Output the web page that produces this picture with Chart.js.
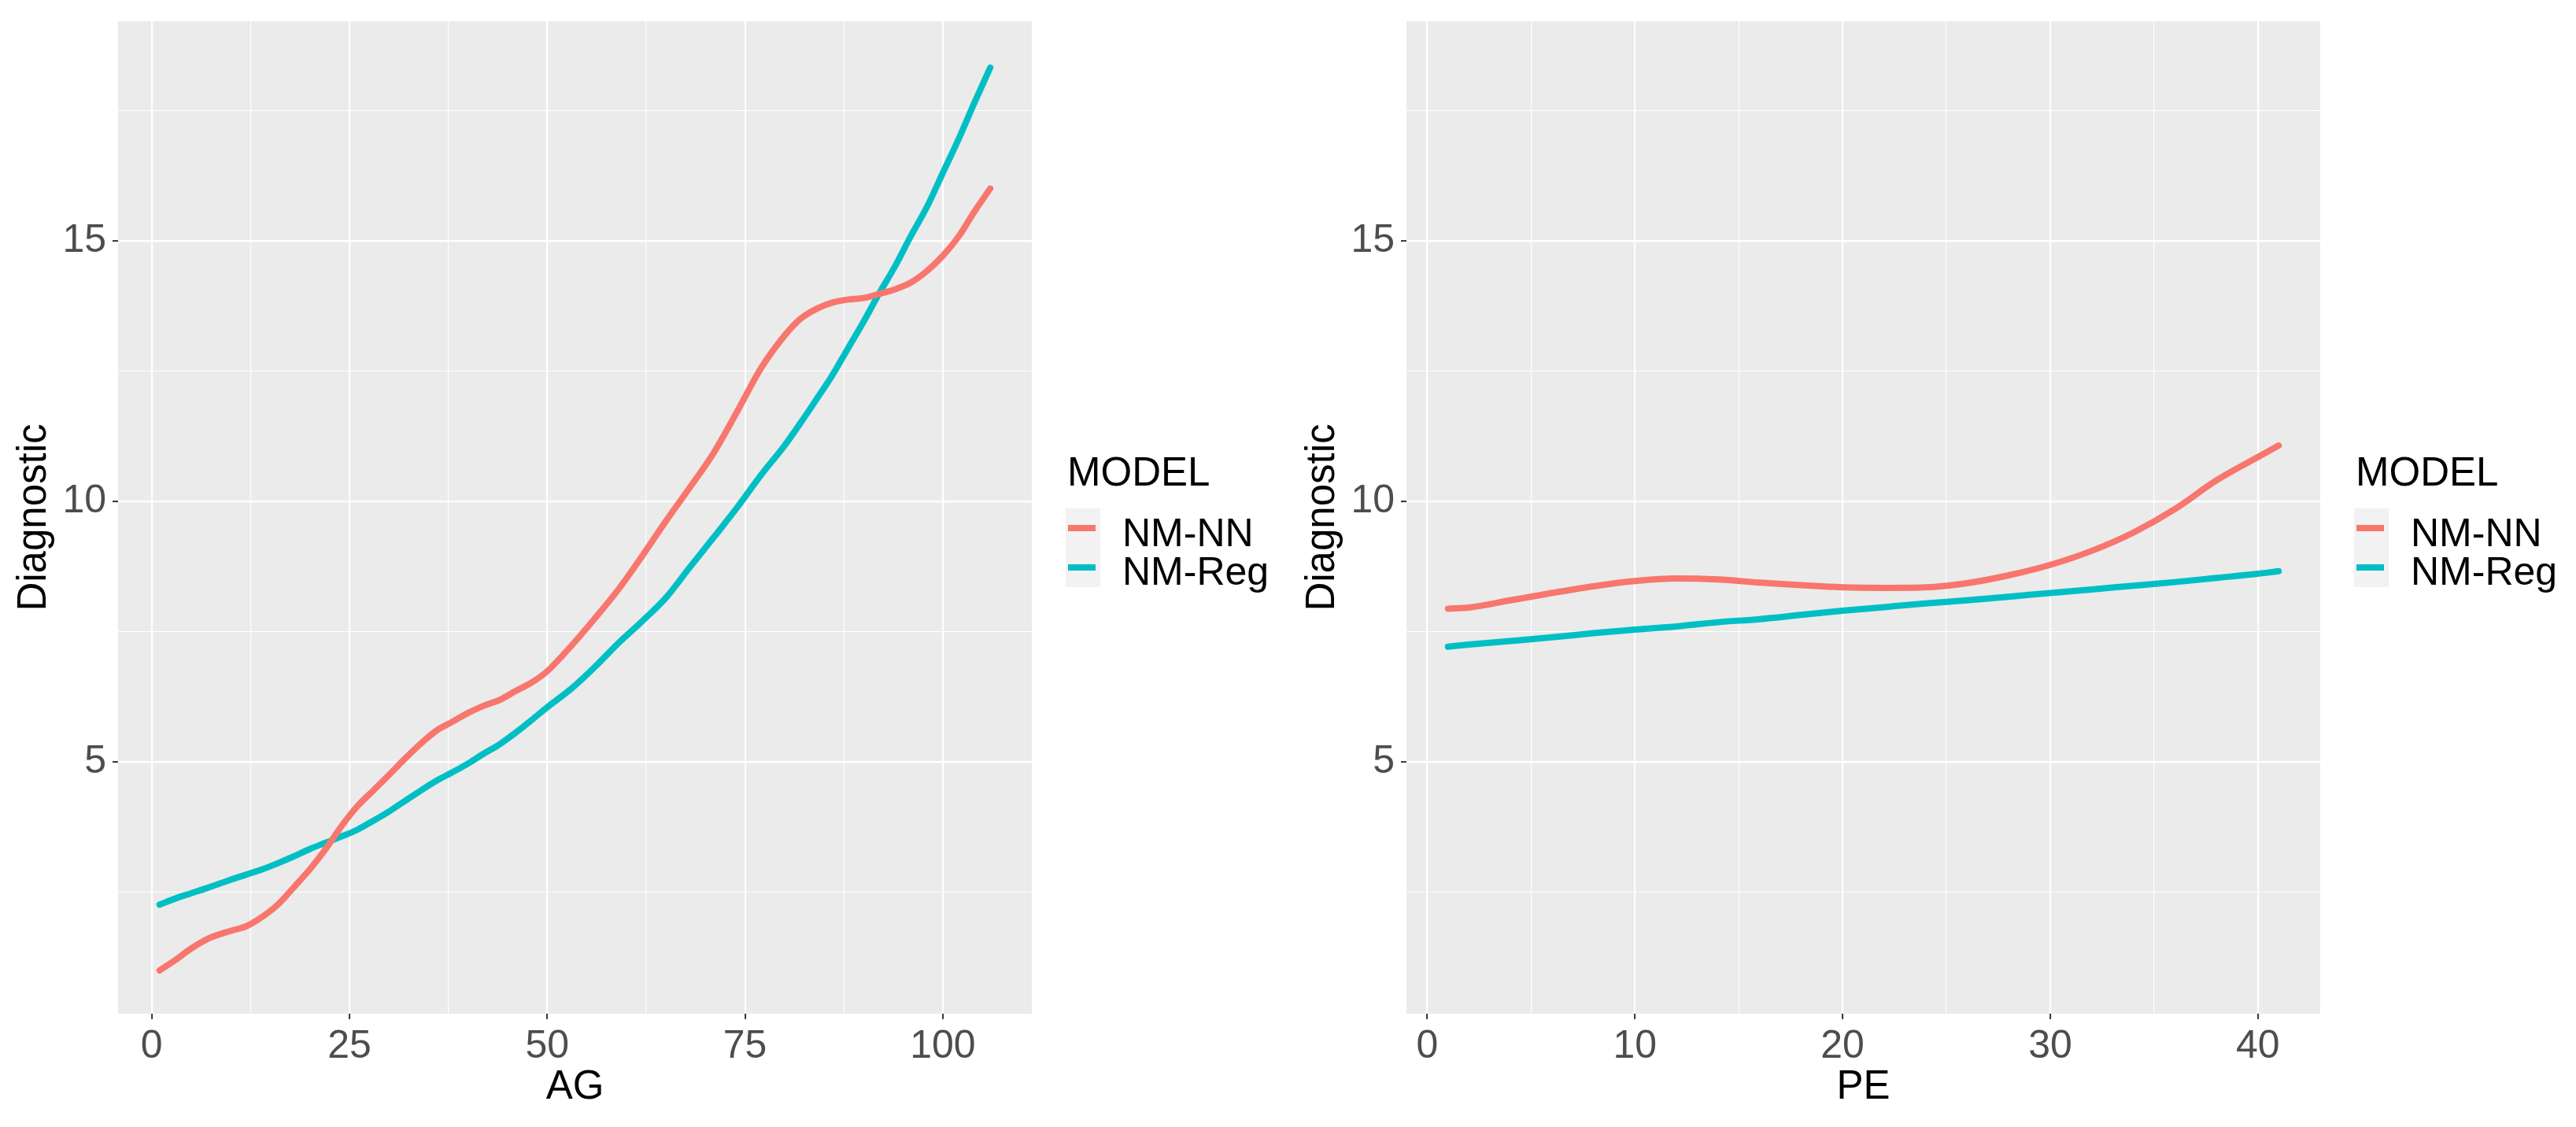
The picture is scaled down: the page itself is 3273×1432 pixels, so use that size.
<!DOCTYPE html>
<html>
<head>
<meta charset="utf-8">
<script src="https://cdn.jsdelivr.net/npm/chart.js@4.4.1/dist/chart.umd.min.js"></script>
<style>
  html, body { margin: 0; padding: 0; background: #ffffff; }
  #wrap { position: relative; width: 3273px; height: 1432px; overflow: hidden; }
  canvas { position: absolute; top: 0; }
</style>
</head>
<body>
<div id="wrap">
  <canvas id="c1" width="1637" height="1432" style="left:0px"></canvas>
  <canvas id="c2" width="1636" height="1432" style="left:1637px"></canvas>
</div>
<script>
// ---------------- DATA ----------------
const seriesNames = ["NM-NN", "NM-Reg"];
const legendTitle = "MODEL";

const agX   = [1, 3, 5, 7, 10, 12, 14, 16, 18, 20, 22, 24, 26, 28, 30, 32, 34, 36, 38, 40, 42, 44, 46, 48, 50, 53, 56, 59, 62, 65, 68, 71, 74, 77, 80, 82, 84, 86, 88, 90, 92, 94, 96, 98, 100, 102, 104, 106];
const agNN  = [1.00, 1.20, 1.42, 1.60, 1.76, 1.85, 2.03, 2.27, 2.60, 2.94, 3.33, 3.77, 4.15, 4.45, 4.75, 5.06, 5.35, 5.60, 5.77, 5.94, 6.08, 6.19, 6.36, 6.52, 6.74, 7.22, 7.75, 8.31, 8.95, 9.62, 10.26, 10.92, 11.72, 12.55, 13.18, 13.50, 13.69, 13.81, 13.87, 13.90, 13.98, 14.07, 14.20, 14.42, 14.71, 15.08, 15.56, 16.00];
const agReg = [2.26, 2.38, 2.48, 2.58, 2.74, 2.84, 2.94, 3.06, 3.19, 3.33, 3.45, 3.57, 3.70, 3.87, 4.05, 4.25, 4.45, 4.64, 4.80, 4.97, 5.16, 5.34, 5.56, 5.80, 6.05, 6.40, 6.82, 7.28, 7.70, 8.15, 8.73, 9.30, 9.88, 10.50, 11.07, 11.50, 11.95, 12.41, 12.93, 13.45, 14.00, 14.52, 15.10, 15.65, 16.30, 16.95, 17.65, 18.32];

const peX   = [1, 2, 4, 6, 8, 10, 12, 14, 16, 18, 20, 22, 24, 26, 28, 30, 32, 34, 36, 38, 40, 41];
const peNN  = [7.94, 7.96, 8.10, 8.24, 8.37, 8.47, 8.52, 8.50, 8.44, 8.39, 8.35, 8.34, 8.35, 8.43, 8.58, 8.78, 9.05, 9.40, 9.85, 10.40, 10.85, 11.07];
const peReg = [7.21, 7.25, 7.32, 7.39, 7.47, 7.54, 7.60, 7.68, 7.74, 7.82, 7.90, 7.97, 8.04, 8.10, 8.17, 8.24, 8.31, 8.38, 8.45, 8.53, 8.61, 8.66];

const agMajorTicks = [0, 25, 50, 75, 100];
const agMinorTicks = [12.5, 37.5, 62.5, 87.5];
const peMajorTicks = [0, 10, 20, 30, 40];
const peMinorTicks = [5, 15, 25, 35];
const yMajorTicks  = [5, 10, 15];
const yMinorTicks  = [2.5, 7.5, 12.5, 17.5];

const yMin = 0.17, yMax = 19.21;
const agRange = [-4.25, 111.25];
const peRange = [-1, 43];

// ---------------- STYLE ----------------
const COLORS = ["#F8766D", "#00BFC4"];
const FONT = "'Liberation Sans', Arial, sans-serif";

const panelBg = {
  id: 'panelBg',
  beforeDraw(chart) {
    const {ctx, chartArea: a} = chart;
    ctx.save();
    ctx.fillStyle = '#EBEBEB';
    ctx.fillRect(a.left, a.top, a.right - a.left, a.bottom - a.top);
    ctx.restore();
  }
};

const ggLegend = {
  id: 'ggLegend',
  afterDraw(chart) {
    const {ctx, chartArea: a} = chart;
    const x0 = a.right;
    ctx.save();
    ctx.fillStyle = '#000000';
    ctx.textBaseline = 'alphabetic';
    ctx.textAlign = 'left';
    ctx.font = `51px ${FONT}`;
    ctx.fillText(legendTitle, x0 + 45, 617);
    ctx.fillStyle = '#F2F2F2';
    ctx.fillRect(x0 + 43, 646, 44, 100);
    const ds = chart.data.datasets;
    ds.forEach((d, i) => {
      const cy = 671 + i * 50;
      ctx.strokeStyle = d.borderColor;
      ctx.lineWidth = 8;
      ctx.lineCap = 'butt';
      ctx.beginPath();
      ctx.moveTo(x0 + 46, cy);
      ctx.lineTo(x0 + 81, cy);
      ctx.stroke();
      ctx.fillStyle = '#000000';
      ctx.font = `50px ${FONT}`;
      ctx.fillText(d.label, x0 + 115, 694 + i * 49);
    });
    ctx.restore();
  }
};

function makeChart(id, xs, ysList, xRange, majors, minors, xTitle, rightPad) {
  const datasets = ysList.map((ys, i) => ({
    label: seriesNames[i],
    data: xs.map((x, j) => ({x: x, y: ys[j]})),
    borderColor: COLORS[i],
    backgroundColor: COLORS[i],
    borderWidth: 8,
    borderCapStyle: 'round',
    borderJoinStyle: 'round',
    pointRadius: 0,
    cubicInterpolationMode: 'monotone',
    fill: false
  }));
  const xTickSet = majors.concat(minors).sort((a, b) => a - b);
  const yTickSet = yMajorTicks.concat(yMinorTicks).sort((a, b) => a - b);
  const isMajor = (ctx, list) => ctx.tick && list.includes(ctx.tick.value);
  return new Chart(document.getElementById(id), {
    type: 'line',
    data: { datasets },
    plugins: [panelBg, ggLegend],
    options: {
      responsive: false,
      animation: false,
      devicePixelRatio: 1,
      layout: { padding: { top: 27, right: rightPad, left: 0, bottom: 0 } },
      plugins: { legend: { display: false }, tooltip: { enabled: false } },
      scales: {
        x: {
          type: 'linear',
          min: xRange[0], max: xRange[1],
          afterBuildTicks: (s) => { s.ticks = xTickSet.map(v => ({value: v})); },
          afterFit: (s) => { s.height = 144; s.paddingLeft = 0; s.paddingRight = 0; },
          border: { display: false },
          grid: {
            color: '#FFFFFF',
            lineWidth: (c) => isMajor(c, majors) ? 2.2 : 1.1,
            tickColor: (c) => isMajor(c, majors) ? '#333333' : 'rgba(0,0,0,0)',
            tickLength: 7,
            tickWidth: 2,
            drawTicks: true
          },
          ticks: {
            autoSkip: false, maxRotation: 0, minRotation: 0,
            color: '#4D4D4D',
            font: { family: FONT, size: 50 },
            padding: 5,
            callback: (v) => majors.includes(v) ? String(v) : ''
          },
          title: {
            display: true, text: xTitle, color: '#000000',
            font: { family: FONT, size: 51 },
            padding: { top: 0, bottom: 19 }
          }
        },
        y: {
          type: 'linear',
          min: yMin, max: yMax,
          afterBuildTicks: (s) => { s.ticks = yTickSet.map(v => ({value: v})); },
          afterFit: (s) => { s.width = 150; s.paddingTop = 0; s.paddingBottom = 0; },
          border: { display: false },
          grid: {
            color: '#FFFFFF',
            lineWidth: (c) => isMajor(c, yMajorTicks) ? 2.2 : 1.1,
            tickColor: (c) => isMajor(c, yMajorTicks) ? '#333333' : 'rgba(0,0,0,0)',
            tickLength: 7,
            tickWidth: 2,
            drawTicks: true
          },
          ticks: {
            autoSkip: false,
            color: '#4D4D4D',
            font: { family: FONT, size: 50 },
            padding: 8,
            callback: (v) => yMajorTicks.includes(v) ? String(v) : ''
          },
          title: {
            display: true, text: 'Diagnostic', color: '#000000',
            font: { family: FONT, size: 51 },
            padding: { top: 13, bottom: 0 }
          }
        }
      }
    }
  });
}

makeChart('c1', agX, [agNN, agReg], agRange, agMajorTicks, agMinorTicks, 'AG', 1637 - 1311);
makeChart('c2', peX, [peNN, peReg], peRange, peMajorTicks, peMinorTicks, 'PE', 1636 - 1311);
</script>
</body>
</html>
